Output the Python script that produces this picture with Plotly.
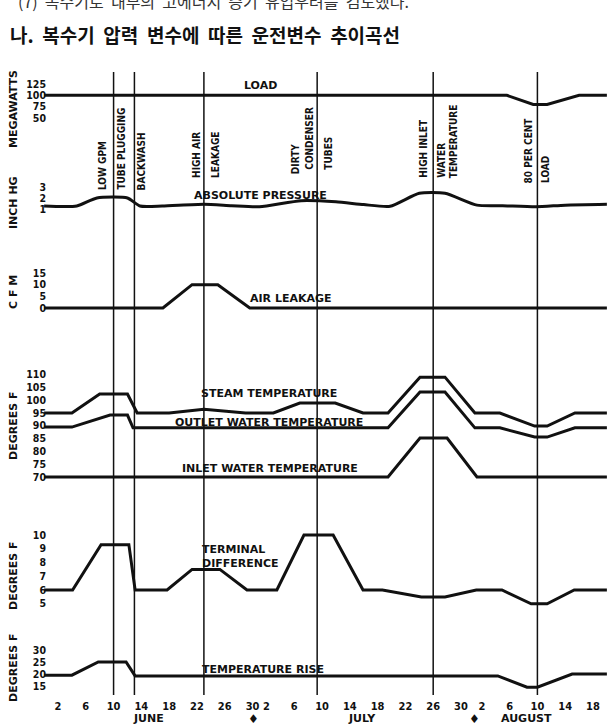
import plotly.graph_objects as go

W, H = 612, 725

# ---------------- data (day index counted from 1 June; 1 July = 31, 1 Aug = 62) ----------------
tick_days = [2, 6, 10, 14, 18, 22, 26, 30, 32, 36, 40, 44, 48, 52, 56, 60, 63, 67, 71, 75, 79]
tick_labels = ["2", "6", "10", "14", "18", "22", "26", "30", "2", "6", "10", "14", "18",
               "22", "26", "30", "2", "6", "10", "14", "18"]
month_names = ["JUNE", "JULY", "AUGUST"]
month_days = [15, 45.7, 69.5]
month_break_days = [30.2, 62]

event_days = [10, 13, 23, 39.3, 56, 71]

load_days = [0, 66.6, 70.4, 72.4, 77, 81]
load_mw = [100, 100, 80, 80, 100, 100]

pressure_days = [0, 4.7, 7.6, 12, 13.8, 17, 23, 27, 31, 37, 42, 46, 49.8, 54, 57.7, 62.3, 66, 70.8, 75, 81]
pressure_inhg = [1.27, 1.27, 2.0, 2.0, 1.27, 1.27, 1.43, 1.3, 1.2, 1.75, 1.65, 1.4, 1.25, 2.43, 2.43,
                 1.35, 1.3, 1.2, 1.35, 1.43]

leak_days = [0, 17.1, 21.3, 25, 29.6, 81]
leak_cfm = [0, 0, 10, 10, 0, 0]

steam_days = [0, 4, 8, 12, 13.4, 18, 23, 29, 33, 36.8, 41.9, 45.9, 49.5, 54.1, 57.7, 62, 65.6, 70.6, 72.4, 76.4, 81]
steam_f = [95, 95, 102.4, 102.4, 95, 95, 96.5, 95, 95, 98.9, 98.9, 95, 95, 109, 109, 95, 95, 89.9, 89.9, 95, 95]

outlet_days = [0, 4, 9.5, 12, 12.8, 49.5, 54.1, 57.7, 62, 65.6, 70.6, 72.4, 76.4, 81]
outlet_f = [89.5, 89.5, 94.2, 94.2, 89.2, 89.2, 103.2, 103.2, 89.2, 89.2, 85.6, 85.6, 89.2, 89.2]

inlet_days = [0, 49.5, 54.1, 58, 62.3, 81]
inlet_f = [70, 70, 85.2, 85.2, 70, 70]

td_days = [0, 4.1, 8.2, 12.2, 13.1, 17.7, 21.3, 25.3, 29.2, 33.5, 37.4, 41.6, 45.9, 48.7, 54.3, 57.7,
           62.2, 65.9, 70.1, 72.4, 76.3, 81]
td_f = [6, 6, 9.3, 9.3, 6, 6, 7.5, 7.5, 6, 6, 10, 10, 6, 6, 5.5, 5.5, 6, 6, 5, 5, 6, 6]

rise_days = [0, 4, 7.8, 11.8, 13.1, 65.3, 69.5, 71, 76, 81]
rise_f = [19.5, 19.5, 25, 25, 19.2, 19.2, 14.5, 14.5, 20, 20]

load_ticks = [50, 75, 100, 125]
pressure_ticks = [1, 2, 3]
leak_ticks = [0, 5, 10, 15]
temp_ticks = [70, 75, 80, 85, 90, 95, 100, 105, 110]
td_ticks = [5, 6, 7, 8, 9, 10]
rise_ticks = [15, 20, 25, 30]

# ---------------- layout helpers ----------------
BLACK = "#111111"
LBL = dict(family="DejaVu Sans", size=11, color=BLACK, weight="bold")
NUM = dict(family="DejaVu Sans Condensed, DejaVu Sans", size=10.5, color=BLACK, weight="bold")
EVT = dict(family="DejaVu Sans Condensed, DejaVu Sans", size=10, color=BLACK, weight="bold")
NB = "\u00a0"


def yrange(va, pa, vb, pb):
    k = (pa - pb) / (vb - va)
    return [va - (H - pa) / k, va + pa / k]


def px(x):
    return x / W


def py(y):
    return 1 - y / H


x0_px, px_per_day = 44.1, 6.948
xrange_ = [-x0_px / px_per_day, (W - x0_px) / px_per_day]

axes = [
    ("y", load_ticks, yrange(125, 84, 50, 118)),
    ("y2", pressure_ticks, yrange(1, 209, 3, 187)),
    ("y3", leak_ticks, yrange(0, 308, 15, 273)),
    ("y4", temp_ticks, yrange(95, 413, 70, 477)),
    ("y5", td_ticks, yrange(6, 590, 10, 535)),
    ("y6", rise_ticks, yrange(20, 674, 25, 662)),
]

fig = go.Figure()
series = [
    (load_days, load_mw, "y", "linear"),
    (pressure_days, pressure_inhg, "y2", "spline"),
    (leak_days, leak_cfm, "y3", "linear"),
    (steam_days, steam_f, "y4", "linear"),
    (outlet_days, outlet_f, "y4", "linear"),
    (inlet_days, inlet_f, "y4", "linear"),
    (td_days, td_f, "y5", "linear"),
    (rise_days, rise_f, "y6", "linear"),
]
for xs, ys, ax, shape in series:
    fig.add_trace(go.Scatter(x=xs, y=ys, yaxis=ax, mode="lines",
                             line=dict(color=BLACK, width=3, shape=shape, smoothing=0.6),
                             showlegend=False, hoverinfo="skip"))

layout = dict(
    width=W, height=H, margin=dict(l=0, r=0, t=0, b=0),
    paper_bgcolor="white", plot_bgcolor="white", showlegend=False,
    xaxis=dict(range=xrange_, domain=[0, 1], anchor="free", position=py(698),
               tickmode="array", tickvals=tick_days, ticktext=tick_labels,
               tickfont=dict(NUM, size=11), ticks="", showgrid=False, zeroline=False, showline=False,
               automargin=False, fixedrange=True),
)
for name, ticks, rng in axes:
    key = "yaxis" if name == "y" else "yaxis" + name[1:]
    d = dict(range=rng, domain=[0, 1], anchor="free", position=px(46),
             tickmode="array", tickvals=ticks, ticktext=[str(t) for t in ticks],
             tickfont=NUM, ticks="", showgrid=False, zeroline=False, showline=False,
             automargin=False, fixedrange=True)
    if name != "y":
        d["overlaying"] = "y"
    layout[key] = d
fig.update_layout(**layout)

# event vertical lines
for d in event_days:
    fig.add_shape(type="line", xref="x", yref="paper", x0=d, x1=d, y0=py(695), y1=py(72),
                  line=dict(color=BLACK, width=1.5))

ann = []
# header texts
line1 = "(7) 복수기로 내부의 고에너지 증기 유입우려를 검토했다.".replace(" ", NB + NB)
line2 = "나. 복수기 압력 변수에 따른 운전변수 추이곡선".replace(" ", NB + NB)
ann.append(dict(text=line1, xref="paper", yref="paper",
                x=px(16), y=py(1), xanchor="left", yanchor="middle", showarrow=False,
                font=dict(family="Noto Sans CJK KR", size=16, color="#333333")))
ann.append(dict(text=line2, xref="paper", yref="paper",
                x=px(8), y=py(35), xanchor="left", yanchor="middle", showarrow=False,
                font=dict(family="Noto Sans CJK KR", size=19, color="#111111", weight="bold")))

# axis titles (rotated)
for t, cy in [("MEGAWATTS", 109), ("INCH HG", 203), ("C F M", 292), ("DEGREES F", 426),
              ("DEGREES F", 576), ("DEGREES F", 668)]:
    ann.append(dict(text=t, xref="paper", yref="paper", x=px(13), y=py(cy), textangle=-90,
                    xanchor="center", yanchor="middle", showarrow=False, font=LBL))

# event labels (rotated)
event_labels = [
    (0, "LOW GPM", -11, 192), (0, "TUBE PLUGGING", 8, 192),
    (1, "BACKWASH", 8, 192),
    (2, "HIGH AIR", -8, 180), (2, "LEAKAGE", 11, 180),
    (3, "DIRTY", -21, 176), (3, "CONDENSER", -8, 172), (3, "TUBES", 11, 172),
    (4, "HIGH INLET", -10, 180), (4, "WATER", 8, 180), (4, "TEMPERATURE", 20, 180),
    (5, "80 PER CENT", -9, 185), (5, "LOAD", 8, 185),
]
for ei, t, dx, by in event_labels:
    ann.append(dict(text=t, xref="x", yref="paper", x=event_days[ei], xshift=dx, y=py(by),
                    textangle=-90, xanchor="center", yanchor="bottom", showarrow=False,
                    font=EVT))

# series labels
for t, cx, cy, anc in [("LOAD", 260, 85, "center"), ("ABSOLUTE PRESSURE", 260, 196, "center"),
                       ("AIR LEAKAGE", 291, 298, "center"), ("STEAM TEMPERATURE", 269, 393, "center"),
                       ("OUTLET WATER TEMPERATURE", 269, 422, "center"),
                       ("INLET WATER TEMPERATURE", 270, 468, "center"),
                       ("TERMINAL<br>DIFFERENCE", 200, 556, "left"),
                       ("TEMPERATURE RISE", 263, 669, "center")]:
    ann.append(dict(text=t, xref="paper", yref="paper", x=px(cx), y=py(cy), xanchor=anc,
                    yanchor="middle", align="left", showarrow=False, font=LBL))

# months and month separators
for m, d in zip(month_names, month_days):
    ann.append(dict(text=m, xref="x", yref="paper", x=d, y=py(718), xanchor="center",
                    yanchor="middle", showarrow=False, font=LBL))
for d in month_break_days:
    ann.append(dict(text="♦", xref="x", yref="paper", x=d, y=py(719), xanchor="center",
                    yanchor="middle", showarrow=False,
                    font=dict(family="DejaVu Sans", size=12, color=BLACK)))

fig.update_layout(annotations=ann)
fig.write_html("out.html")
